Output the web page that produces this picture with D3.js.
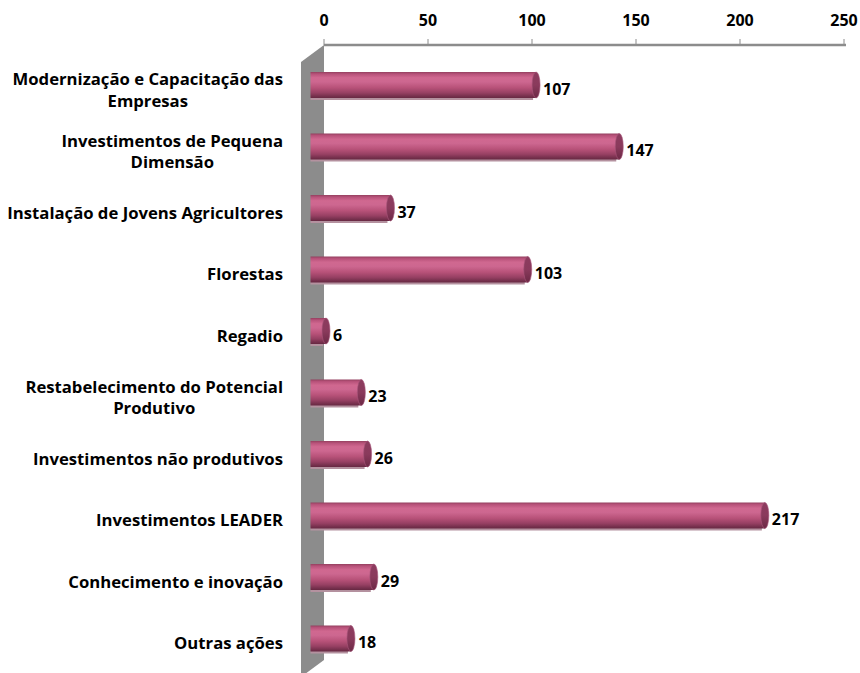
<!DOCTYPE html>
<html>
<head>
<meta charset="utf-8">
<script src="https://cdn.jsdelivr.net/npm/d3@7"></script>
<style>
  html, body { margin: 0; padding: 0; background: #fff; }
  svg { display: block; }
  text { font-family: "Open Sans", Lato, sans-serif; font-weight: bold; fill: #000; }
</style>
</head>
<body>
<svg id="chart" width="860" height="673"></svg>
<script>
// Investment measures and their values
const categories = [
  "Modernização e Capacitação das Empresas",
  "Investimentos de Pequena Dimensão",
  "Instalação de Jovens Agricultores",
  "Florestas",
  "Regadio",
  "Restabelecimento do Potencial Produtivo",
  "Investimentos não produtivos",
  "Investimentos LEADER",
  "Conhecimento e inovação",
  "Outras ações"
];
const values = [107, 147, 37, 103, 6, 23, 26, 217, 29, 18];
const tickValues = [0, 50, 100, 150, 200, 250];

const W = 860, H = 673;
const FS = 16;        // numbers
const FS_CAT = 16.7;  // category names
const svg = d3.select("#chart");

// Back plane (axis) scale and the depth shift of the bar fronts
const xBack = d3.scaleLinear().domain([0, 250]).range([324, 844]);
const depth = { dx: -23, dy: 17 };   // full wall depth
const barShift = -10.5;              // bars sit mid-depth
const xFront = d3.scaleLinear().domain([0, 250]).range([xBack(0) + barShift, xBack(250) + barShift]);

const step = 61.5;
const y = d3.scaleBand()
  .domain(categories)
  .range([85 - step / 2, 85 + step * (categories.length - 0.5)])
  .paddingInner(1 - 26 / step)
  .paddingOuter((1 - 26 / step) / 2);
const barH = y.bandwidth();
const cy = c => y(c) + barH / 2;

// Cylinder shading
const defs = svg.append("defs");
const grad = defs.append("linearGradient")
  .attr("id", "cyl").attr("x1", 0).attr("y1", 0).attr("x2", 0).attr("y2", 1);
[
  [0, "#94405f"], [0.08, "#b8527a"], [0.22, "#d06890"], [0.38, "#cd6790"],
  [0.6, "#b85279"], [0.8, "#974063"], [0.93, "#76304d"], [1, "#672842"]
].forEach(([o, c]) => grad.append("stop").attr("offset", o).attr("stop-color", c));

const capGrad = defs.append("linearGradient")
  .attr("id", "cap").attr("x1", 0).attr("y1", 0).attr("x2", 0).attr("y2", 1);
[[0, "#8d3c5f"], [0.5, "#8a3a5c"], [1, "#6c2945"]]
  .forEach(([o, c]) => capGrad.append("stop").attr("offset", o).attr("stop-color", c));

// Side wall
const wallTop = 45, wallBottom = 660;
svg.append("polygon")
  .attr("points", [
    [xBack(0) + depth.dx, wallTop + depth.dy],
    [xBack(0), wallTop],
    [xBack(0), wallBottom],
    [xBack(0) + depth.dx, wallBottom + depth.dy]
  ].map(p => p.join(",")).join(" "))
  .attr("fill", "#8c8c8c");

// Value axis along the top
const axisY = 45;
svg.append("line")
  .attr("x1", xBack(0)).attr("x2", xBack(250) + 2)
  .attr("y1", axisY).attr("y2", axisY)
  .attr("stroke", "#8c8c8c").attr("stroke-width", 2.5);

const ticks = svg.append("g");
ticks.selectAll("line").data(tickValues).join("line")
  .attr("x1", d => xBack(d)).attr("x2", d => xBack(d))
  .attr("y1", axisY).attr("y2", axisY - 6)
  .attr("stroke", "#8c8c8c").attr("stroke-width", 1);
ticks.selectAll("text").data(tickValues).join("text")
  .attr("x", d => xBack(d)).attr("y", 26)
  .attr("text-anchor", "middle")
  .attr("font-size", FS)
  .text(d => d);

// Bars
const rx = 4;
const bars = svg.append("g").selectAll("g").data(categories).join("g");

// soft shadow strip under each cylinder
bars.append("rect")
  .attr("x", xFront(0) - 3)
  .attr("y", c => cy(c) + barH / 2 - 1)
  .attr("width", (c, i) => Math.max(0, xFront(values[i]) - xFront(0)))
  .attr("height", 3)
  .attr("fill", "#b4919f");

bars.append("rect")
  .attr("x", xFront(0) - 3)
  .attr("y", c => y(c))
  .attr("width", (c, i) => xFront(values[i]) - xFront(0) + 3)
  .attr("height", barH)
  .attr("fill", "url(#cyl)");

bars.append("ellipse")
  .attr("cx", (c, i) => xFront(values[i]))
  .attr("cy", c => cy(c))
  .attr("rx", rx)
  .attr("ry", barH / 2)
  .attr("fill", "url(#cap)")
  .attr("stroke", "#a8557a")
  .attr("stroke-width", 0.6);

// Value labels
bars.append("text")
  .attr("x", (c, i) => xFront(values[i]) + rx + 3)
  .attr("y", c => cy(c) + 4 + 5.7)
  .attr("font-size", FS)
  .text((c, i) => values[i]);

// Category labels, wrapped and centred as a block right-aligned to the wall
const labelRight = 283, maxW = 282, lineGap = 21.5;
const labels = svg.append("g");
categories.forEach(c => {
  const probe = labels.append("text").attr("font-size", FS_CAT);
  const words = c.split(" ");
  const lines = [];
  let cur = "";
  words.forEach(w => {
    const test = cur ? cur + " " + w : w;
    probe.text(test);
    if (probe.node().getComputedTextLength() > maxW && cur) {
      lines.push(cur);
      cur = w;
    } else {
      cur = test;
    }
  });
  lines.push(cur);
  const widths = lines.map(l => { probe.text(l); return probe.node().getComputedTextLength(); });
  probe.remove();
  const blockW = d3.max(widths);
  const midY = cy(c) + 5;
  const firstCap = midY - (lines.length - 1) * lineGap / 2;
  lines.forEach((l, k) => {
    labels.append("text")
      .attr("font-size", FS_CAT)
      .attr("text-anchor", lines.length > 1 ? "middle" : "end")
      .attr("x", lines.length > 1 ? labelRight - blockW / 2 : labelRight)
      .attr("y", firstCap + k * lineGap + 5.9)
      .text(l);
  });
});
</script>
</body>
</html>
